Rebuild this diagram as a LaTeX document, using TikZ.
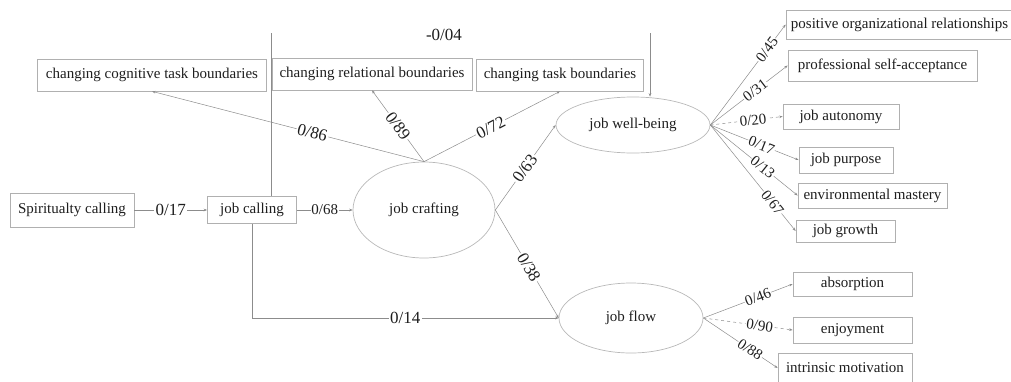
\documentclass[tikz,border=0pt]{standalone}
\usepackage{fontspec}
\setmainfont{Liberation Serif}
\usetikzlibrary{arrows.meta,shapes.geometric}
\definecolor{boxgray}{HTML}{B0B0B0}
\definecolor{ovalgray}{HTML}{B8B8B8}
\definecolor{linegray}{HTML}{8C8C8C}
\definecolor{txt}{HTML}{1E1E1E}
\begin{document}
\begin{tikzpicture}[x=1pt,y=-1pt,
  box/.style={draw=boxgray, line width=0.7pt, inner sep=0pt, font=\fontsize{15}{18}\selectfont, text=txt},
  oval/.style={draw=ovalgray, ellipse, line width=0.7pt, inner sep=0pt, font=\fontsize{15}{18}\selectfont, text=txt},
  conn/.style={draw=linegray, line width=0.5pt, -{Stealth[length=3.5pt,width=2.6pt]}},
  plain/.style={draw=linegray, line width=0.5pt},
  lbl/.style={fill=white, inner sep=0.8pt, font=\fontsize{15}{18}\selectfont, text=txt},
  biglbl/.style={lbl, inner sep=1.2pt, font=\fontsize{17}{20}\selectfont}]
\useasboundingbox (0,0) rectangle (1011,381);

% boxes
\node[box, minimum width=124, minimum height=34] (spir) at (72,210) {Spiritualty calling};
\node[box, minimum width=89, minimum height=27] (jc) at (252,210) {job calling};
\node[box, minimum width=229, minimum height=32] (cog) at (152,75) {changing cognitive task boundaries};
\node[box, minimum width=200, minimum height=32] (rel) at (372,74) {changing relational boundaries};
\node[box, minimum width=167, minimum height=32] (task) at (560,75) {changing task boundaries};
\node[box, minimum width=227, minimum height=29] (por) at (899.5,24.5) {positive organizational relationships};
\node[box, minimum width=189, minimum height=31] (psa) at (882.5,65.5) {professional self-acceptance};
\node[box, minimum width=116, minimum height=25] (ja) at (841,116.5) {job autonomy};
\node[box, minimum width=94, minimum height=26] (jp) at (846,160) {job purpose};
\node[box, minimum width=149, minimum height=25] (em) at (872.5,195.5) {environmental mastery};
\node[box, minimum width=99, minimum height=22] (jg) at (845.5,231) {job growth};
\node[box, minimum width=119, minimum height=24] (abs) at (852.5,284) {absorption};
\node[box, minimum width=119, minimum height=26] (enj) at (852.5,330) {enjoyment};
\node[box, minimum width=134, minimum height=30] (im) at (845,368) {intrinsic motivation};

% ellipses
\node[oval, minimum width=142, minimum height=96] (jcr) at (424,210) {job crafting};
\node[oval, minimum width=154, minimum height=56] (wb) at (633,125) {job well-being};
\node[oval, minimum width=144, minimum height=70] (jf) at (631,318) {job flow};

% main paths
\draw[conn] (spir) -- node[biglbl] {0/17} (jc);
\draw[conn] (jc) -- node[lbl] {0/68} (jcr);
\draw[conn] (jc.south) |- node[biglbl, pos=0.75] {0/14} (jf.west);

\draw[conn] (jcr.north) -- node[biglbl, sloped, pos=0.41] {0/86} (cog.south);
\draw[conn] (jcr.north) -- node[biglbl, sloped, pos=0.5] {0/89} (rel.south);
\draw[conn] (jcr.north) -- node[biglbl, sloped, pos=0.49] {0/72} (task.south);
\draw[conn] (jcr.east) -- node[biglbl, sloped, pos=0.49] {0/63} (wb.west);
\draw[conn] (jcr.east) -- node[biglbl, sloped, pos=0.53] {0/38} (jf.west);

% -0/04 path
\node[biglbl] (l04) at (444,35) {-0/04};
\coordinate (t1) at (271,33);
\coordinate (t2) at (650,33);
\draw[plain] (t1) -- (t1 |- jc.north);
\draw[conn] (t2) -- (wb.north -| t2);

% well-being indicators
\draw[conn] (wb.east) -- node[lbl, sloped, pos=0.75] {0/45} (por.west);
\draw[conn] (wb.east) -- node[lbl, sloped, pos=0.58] {0/31} (psa.west);
\draw[conn, dashed] (wb.east) -- node[lbl, sloped, pos=0.59] {0/20} (ja.west);
\draw[conn] (wb.east) -- node[lbl, sloped, pos=0.58] {0/17} (jp.west);
\draw[conn] (wb.east) -- node[lbl, sloped, pos=0.6] {0/13} (em.west);
\draw[conn] (wb.east) -- node[lbl, sloped, pos=0.73] {0/67} (jg.west);

% flow indicators
\draw[conn] (jf.east) -- node[lbl, sloped, pos=0.61] {0/46} (abs.west);
\draw[conn, dashed] (jf.east) -- node[lbl, sloped, pos=0.63] {0/90} (enj.west);
\draw[conn] (jf.east) -- node[lbl, sloped, pos=0.63] {0/88} (im.west);
\end{tikzpicture}
\end{document}
